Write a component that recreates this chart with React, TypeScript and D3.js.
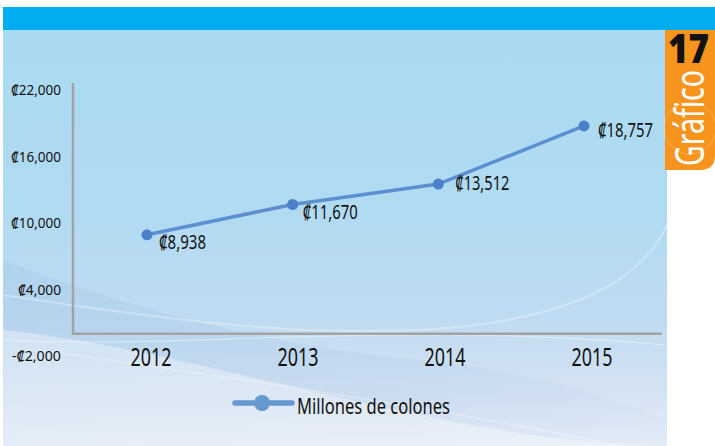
import React from "react";
import * as d3 from "d3";

const years = ["2012", "2013", "2014", "2015"];
const values = [8938, 11670, 13512, 18757];
const valueLabels = ["₡8,938", "₡11,670", "₡13,512", "₡18,757"];
const yTicks = [-2000, 4000, 10000, 16000, 22000];
const yTickLabels = ["-₡2,000", "₡4,000", "₡10,000", "₡16,000", "₡22,000"];
const seriesName = "Millones de colones";

// layout (label placement relative to the points, text widths to imitate the condensed face)
const labelDx = [12, 10, 17, 14];
const labelDy = [14, 15, 6, 11];
const labelWidths = [47, 55, 54, 55];
const tickWidths = [49, 43, 50, 50, 50];

const W = 715;
const H = 446;
const FONT = "'Noto Sans', 'Open Sans', sans-serif";

function T(props: any) {
  const { children, w, ...rest } = props;
  return (
    <text {...rest} textLength={w} lengthAdjust="spacingAndGlyphs">
      {children}
    </text>
  );
}

export default function App() {
  const x = d3.scalePoint<string>().domain(years).range([147, 584]);
  const xLab = d3.scalePoint<string>().domain(years).range([151, 592]);
  const y = d3.scaleLinear().domain([-2000, 22000]).range([356, 90]);
  const line = d3
    .line<number>()
    .x((_, i) => x(years[i]) as number)
    .y((d) => y(d));
  const axisY0 = y(0);

  return (
    <svg
      width={W}
      height={H}
      style={{ position: "absolute", left: 0, top: 0, fontFamily: FONT }}
    >
      <defs>
        <linearGradient id="bg" x1="0" y1="0" x2="0" y2="1">
          <stop offset="0" stopColor="#a9daf2" />
          <stop offset="0.45" stopColor="#b1dbf2" />
          <stop offset="0.7" stopColor="#c0dbf1" />
          <stop offset="0.88" stopColor="#d6e3f3" />
          <stop offset="1" stopColor="#e9f0f9" />
        </linearGradient>
        <linearGradient id="band" x1="0" y1="0" x2="1" y2="0">
          <stop offset="0" stopColor="#8fb6de" stopOpacity="0.2" />
          <stop offset="0.6" stopColor="#9dbfe3" stopOpacity="0.18" />
          <stop offset="1" stopColor="#a9c6e8" stopOpacity="0.08" />
        </linearGradient>
        <clipPath id="panel">
          <rect x={3} y={30} width={664} height={H - 30} />
        </clipPath>
      </defs>
      <rect x={0} y={0} width={W} height={H} fill="#ffffff" />
      <rect x={3} y={7} width={W - 3} height={23} fill="#00aeef" />
      <rect x={3} y={30} width={664} height={H - 30} fill="url(#bg)" />
      <g clipPath="url(#panel)">
        {/* decorative swooshes */}
        <path
          d="M3,260 C120,305 260,345 420,360 C540,372 620,400 667,420 L667,446 L3,446 Z"
          fill="url(#band)"
        />
        <path
          d="M3,330 C150,345 300,395 500,430 C560,440 620,446 667,446 L3,446 Z"
          fill="#ffffff"
          opacity={0.35}
        />
        <path
          d="M667,225 C640,285 560,322 420,330 C300,336 180,322 3,295"
          fill="none"
          stroke="#ffffff"
          strokeOpacity={0.3}
          strokeWidth={2}
        />
        <path
          d="M3,340 C180,350 380,320 667,345"
          fill="none"
          stroke="#ffffff"
          strokeOpacity={0.4}
          strokeWidth={1.2}
        />
        <path
          d="M40,350 C250,380 450,410 620,446"
          fill="none"
          stroke="#ffffff"
          strokeOpacity={0.4}
          strokeWidth={1.2}
        />
      </g>
      {/* orange tab */}
      <path
        d="M665,30 L715,30 L715,155 Q715,170 700,170 L665,170 Z"
        fill="#f7941d"
      />
      <circle cx={690} cy={128} r={26} fill="none" stroke="#ffffff" strokeOpacity={0.3} strokeWidth={0.8} />
      <T
        x={668}
        y={63}
        w={41}
        fontSize={40}
        fontWeight={900}
        fill="#111"
        fontFamily={FONT}
      >
        17
      </T>
      <T
        transform="translate(704,166) rotate(-90)"
        x={0}
        y={0}
        w={96}
        fontSize={40}
        fill="#ffffff"
        fontFamily={FONT}
      >
        Gráfico
      </T>

      {/* axes */}
      <line x1={73} x2={73} y1={83} y2={axisY0} stroke="#a3a3a3" strokeWidth={2.5} />
      <line x1={72} x2={662} y1={axisY0} y2={axisY0} stroke="#a3a3a3" strokeWidth={2.5} />

      {yTicks.map((t, i) => (
        <T
          key={t}
          x={61 - tickWidths[i]}
          y={y(t) + 5}
          w={tickWidths[i]}
          fontSize={15}
          fill="#111"
        >
          {yTickLabels[i]}
        </T>
      ))}

      {years.map((yr) => (
        <T
          key={yr}
          x={(xLab(yr) as number) - 20.5}
          y={366}
          w={41}
          fontSize={25}
          fill="#111"
        >
          {yr}
        </T>
      ))}

      <path
        d={line(values) || ""}
        fill="none"
        stroke="#5b8fd0"
        strokeWidth={3.5}
      />
      {values.map((v, i) => (
        <g key={i}>
          <circle cx={x(years[i])} cy={y(v)} r={5.5} fill="#4a80c8" />
          <T
            x={(x(years[i]) as number) + labelDx[i]}
            y={y(v) + labelDy[i]}
            w={labelWidths[i]}
            fontSize={19}
            fill="#111"
          >
            {valueLabels[i]}
          </T>
        </g>
      ))}

      {/* legend */}
      <line x1={235} x2={292} y1={403} y2={403} stroke="#6699cf" strokeWidth={5.5} strokeLinecap="round" />
      <circle cx={262} cy={403} r={8} fill="#6699cf" />
      <T x={297} y={414} w={153} fontSize={22} fill="#111">
        {seriesName}
      </T>
    </svg>
  );
}
